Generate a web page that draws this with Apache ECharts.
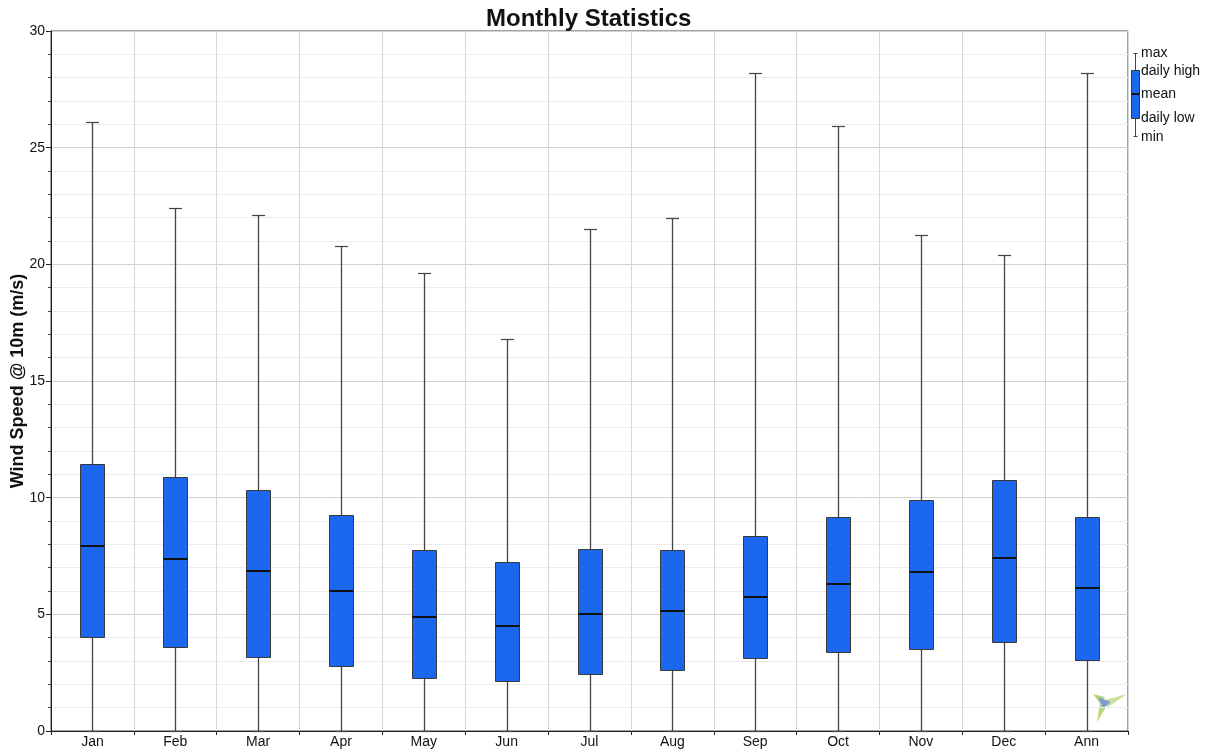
<!DOCTYPE html>
<html>
<head>
<meta charset="utf-8">
<title>Monthly Statistics</title>
<script src="https://cdn.jsdelivr.net/npm/echarts@6/dist/echarts.min.js"></script>
<style>
  html, body { margin: 0; padding: 0; background: #fff; }
  #chart { width: 1211px; height: 753px; }
</style>
</head>
<body>
<div id="chart"></div>
<script>
// Monthly wind speed statistics at 10 m (m/s)
const categories = ['Jan', 'Feb', 'Mar', 'Apr', 'May', 'Jun', 'Jul', 'Aug', 'Sep', 'Oct', 'Nov', 'Dec', 'Ann'];
const maxValues   = [26.12, 22.40, 22.10, 20.77, 19.61, 16.79, 21.50, 21.97, 28.18, 25.91, 21.24, 20.39, 28.18];
const dailyHigh   = [11.43, 10.89, 10.32, 9.24, 7.77, 7.25, 7.81, 7.77, 8.36, 9.16, 9.91, 10.76, 9.16];
const meanValues  = [7.91, 7.37, 6.87, 5.98, 4.90, 4.51, 5.01, 5.13, 5.73, 6.28, 6.81, 7.40, 6.12];
const dailyLow    = [4.01, 3.58, 3.16, 2.80, 2.26, 2.14, 2.43, 2.60, 3.11, 3.37, 3.53, 3.82, 3.04];
const minValues   = [0, 0, 0, 0, 0, 0, 0, 0, 0, 0, 0, 0, 0];
const yTicks = { min: 0, max: 30, step: 5 };

const BOX_FILL = '#1c67ef';
const BOX_EDGE = '#3a3a3a';
const WHISKER = '#444';
const FONT = 'Liberation Sans, Arial, sans-serif';

const seriesData = categories.map((c, i) => [i, minValues[i], dailyLow[i], meanValues[i], dailyHigh[i], maxValues[i]]);

function renderBox(params, api) {
  const i = api.value(0);
  const cx = api.coord([i, 0])[0];
  const band = api.size([1, 0])[0];
  const bw = Math.round(band * 0.29);
  const cw = Math.round(band * 0.16);
  const y = k => api.coord([i, api.value(k)])[1];
  const yMin = Math.round(y(1)), yLow = Math.round(y(2)), yMean = Math.round(y(3));
  const yHigh = Math.round(y(4)), yMax = Math.round(y(5));
  const x = Math.round(cx) + 0.5;
  const bx = Math.round(cx - bw / 2) + 0.5;
  const ln = (x1, y1, x2, y2, color, w) => ({
    type: 'line', shape: { x1, y1, x2, y2 }, style: { stroke: color, lineWidth: w }
  });
  return {
    type: 'group',
    children: [
      ln(x, yMax, x, yHigh, WHISKER, 1.3),
      ln(x, yLow, x, yMin, WHISKER, 1.3),
      ln(x - cw / 2, yMax + 0.5, x + cw / 2, yMax + 0.5, WHISKER, 1.2),
      ln(x - cw / 2, yMin + 0.5, x + cw / 2, yMin + 0.5, WHISKER, 1.2),
      {
        type: 'rect',
        shape: { x: bx, y: yHigh + 0.5, width: bw, height: yLow - yHigh },
        style: { fill: BOX_FILL, stroke: BOX_EDGE, lineWidth: 1 }
      },
      ln(bx, yMean, bx + bw, yMean, '#111', 2)
    ]
  };
}

// Key glyph on the right: whisker, box and mean bar with their labels
const keyX = 1135.5;
const keyGlyph = [
  { type: 'line', shape: { x1: keyX, y1: 53, x2: keyX, y2: 137 }, style: { stroke: WHISKER, lineWidth: 1 } },
  { type: 'line', shape: { x1: keyX - 2, y1: 53.5, x2: keyX + 2, y2: 53.5 }, style: { stroke: WHISKER, lineWidth: 1 } },
  { type: 'line', shape: { x1: keyX - 2, y1: 136.5, x2: keyX + 2, y2: 136.5 }, style: { stroke: WHISKER, lineWidth: 1 } },
  { type: 'rect', shape: { x: 1131.5, y: 70.5, width: 8, height: 48 }, style: { fill: BOX_FILL, stroke: BOX_EDGE, lineWidth: 1 } },
  { type: 'line', shape: { x1: 1131.5, y1: 94, x2: 1139.5, y2: 94 }, style: { stroke: '#111', lineWidth: 2 } }
];
const keyLabels = [['max', 53], ['daily high', 71], ['mean', 94], ['daily low', 118], ['min', 137]].map(([t, yy]) => ({
  type: 'text', x: 1141, y: yy,
  style: { text: t, fill: '#111', font: '14px ' + FONT, textVerticalAlign: 'middle', textAlign: 'left' }
}));

// Small arrow mark in the lower right corner
const mark = [
  { type: 'polygon', shape: { points: [[1093, 694], [1105, 697], [1101, 705]] }, style: { fill: '#bcd97c' } },
  { type: 'polygon', shape: { points: [[1101, 701], [1127, 694], [1108, 707]] }, style: { fill: '#c9e29a' } },
  { type: 'polygon', shape: { points: [[1097, 722], [1100, 703], [1106, 707]] }, style: { fill: '#bcd77a' } },
  { type: 'polygon', shape: { points: [[1098, 697], [1111, 702], [1103, 708]] }, style: { fill: '#7f9bd6' } }
];

const chart = echarts.init(document.getElementById('chart'), null, { renderer: 'canvas' });
chart.setOption({
  backgroundColor: '#fff',
  animation: false,
  title: {
    text: 'Monthly Statistics',
    left: 481, top: 2,
    textStyle: { fontFamily: FONT, fontSize: 24, fontWeight: 'bold', color: '#111' }
  },
  grid: {
    left: 51, right: 83, top: 31, bottom: 22,
    containLabel: false,
    outerBoundsMode: 'none',
    show: true, borderColor: '#444', borderWidth: 1, backgroundColor: 'transparent'
  },
  xAxis: {
    type: 'category',
    data: categories,
    boundaryGap: true,
    axisLine: { lineStyle: { color: '#222', width: 1 } },
    axisTick: { show: true, interval: 0, length: 4, lineStyle: { color: '#222' } },
    axisLabel: { interval: 0, margin: 4, color: '#111', fontSize: 14, fontFamily: FONT },
    splitLine: { show: true, interval: 0, lineStyle: { color: '#d6d6d6', width: 1 } }
  },
  yAxis: {
    type: 'value',
    min: yTicks.min, max: yTicks.max, interval: yTicks.step,
    name: 'Wind Speed @ 10m (m/s)',
    nameLocation: 'middle',
    nameGap: 24,
    nameMoveOverlap: false,
    nameTextStyle: { fontFamily: FONT, fontSize: 18, fontWeight: 'bold', color: '#111' },
    axisLine: { show: true, lineStyle: { color: '#222', width: 1 } },
    axisTick: { show: true, length: 5, lineStyle: { color: '#222' } },
    minorTick: { show: true, splitNumber: 5, length: 3, lineStyle: { color: '#444' } },
    axisLabel: { margin: 6, color: '#111', fontSize: 14, fontFamily: FONT },
    splitLine: { show: true, lineStyle: { color: '#d2d2d2', width: 1 } },
    minorSplitLine: { show: true, lineStyle: { color: '#ececec', width: 1 } }
  },
  series: [{
    type: 'custom',
    renderItem: renderBox,
    data: seriesData,
    encode: { x: 0, y: [1, 2, 3, 4, 5] },
    z: 5
  }],
  graphic: [...keyGlyph, ...keyLabels, ...mark]
});
</script>
</body>
</html>
